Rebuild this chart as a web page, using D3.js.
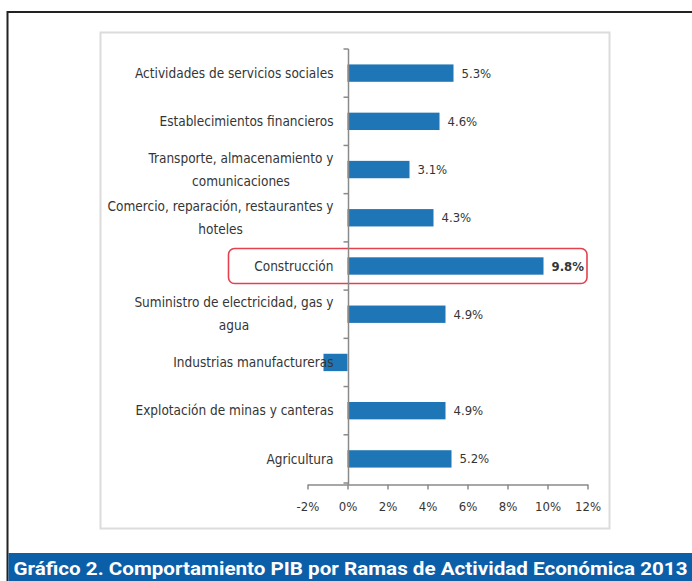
<!DOCTYPE html>
<html><head><meta charset="utf-8">
<script src="https://cdn.jsdelivr.net/npm/d3@7"></script>
<style>
html,body{margin:0;padding:0;background:#fff;}
svg{display:block;}
</style>
</head><body>
<svg id="c" width="692" height="581"></svg>
<script>
const categories = ["Actividades de servicios sociales","Establecimientos financieros","Transporte, almacenamiento y comunicaciones","Comercio, reparación, restaurantes y hoteles","Construcción","Suministro de electricidad, gas y agua","Industrias manufactureras","Explotación de minas y canteras","Agricultura"];
const labelLines = [["Actividades de servicios sociales"],["Establecimientos financieros"],["Transporte, almacenamiento y","comunicaciones"],["Comercio, reparación, restaurantes y","hoteles"],["Construcción"],["Suministro de electricidad, gas y","agua"],["Industrias manufactureras"],["Explotación de minas y canteras"],["Agricultura"]];
const values = [5.3, 4.6, 3.1, 4.3, 9.8, 4.9, -1.2, 4.9, 5.2];
const valueLabels = ["5.3%","4.6%","3.1%","4.3%","9.8%","4.9%","","4.9%","5.2%"];
const tickValues = [-2, 0, 2, 4, 6, 8, 10, 12];
const tickLabels = ["-2%","0%","2%","4%","6%","8%","10%","12%"];
const highlight = "Construcción";
const caption = "Gráfico 2. Comportamiento PIB por Ramas de Actividad Económica 2013";

const svg = d3.select("#c");
const labelFont = "'Liberation Sans Narrow','Arial Narrow','DejaVu Sans Condensed',sans-serif";
const textCol = "#353535";
const barCol = "#1f76b6";

// outer frame
svg.append("path").attr("d","M7.5,581V12H692").attr("fill","none").attr("stroke","#222").attr("stroke-width",2);
// chart box
svg.append("rect").attr("x",100.5).attr("y",32.5).attr("width",509).attr("height",496)
  .attr("fill","#fff").attr("stroke","#dcdcdc").attr("stroke-width",2);

const x = d3.scaleLinear().domain([-2, 12]).range([307.5, 587.5]);
const y = d3.scaleBand().domain(categories).range([49, 483]).paddingInner(0.64).paddingOuter(0.32);
const bw = y.bandwidth();
const step = y.step();
const axisY = 484.5;

// highlight box
const hc = y(highlight) + bw/2;
svg.append("rect").attr("x",228.5).attr("y",hc-17.5).attr("width",x(12)-0.5-228.5).attr("height",35)
  .attr("rx",6).attr("fill","none").attr("stroke","#e5404f").attr("stroke-width",1.6);

// bars
svg.append("g").selectAll("rect").data(categories).join("rect")
  .attr("x",(d,i)=>x(Math.min(0,values[i])))
  .attr("y",d=>y(d))
  .attr("width",(d,i)=>Math.abs(x(values[i])-x(0)))
  .attr("height",bw)
  .attr("fill",barCol);

// category labels (drawn over bars)
const lab = svg.append("g").attr("font-family",labelFont).attr("font-size",13.5).attr("fill",textCol);
categories.forEach((c,i)=>{
  const lines = labelLines[i];
  const cy = y(c) + bw/2;
  if (lines.length === 1) {
    lab.append("text").attr("x",333.5).attr("y",cy).attr("dy","0.35em").attr("text-anchor","end").text(lines[0]);
  } else {
    const tmp = lines.map((l,j)=> lab.append("text").attr("y",cy + (j - (lines.length-1)/2)*23).attr("dy","0.35em").attr("text-anchor","middle").text(l));
    const maxW = d3.max(tmp, t => t.node().getComputedTextLength());
    tmp.forEach(t => t.attr("x", 333.5 - maxW/2));
  }
});

// value labels
svg.append("g").attr("font-family",labelFont).attr("font-size",13).attr("fill",textCol)
  .selectAll("text").data(categories).join("text")
  .attr("x",(d,i)=>x(Math.max(0,values[i]))+8)
  .attr("y",d=>y(d)+bw/2).attr("dy","0.35em")
  .attr("font-weight",d=> d===highlight ? "bold" : "normal")
  .text((d,i)=>valueLabels[i]);

// x axis
const xa = svg.append("g").attr("transform",`translate(0,${axisY})`)
  .call(d3.axisBottom(x).tickValues(tickValues).tickFormat((d,i)=>tickLabels[i]).tickSize(5).tickSizeOuter(0).tickPadding(12));
xa.selectAll("path,line").attr("stroke","#8a8a8a").attr("stroke-width",1.5);
xa.selectAll("text").attr("font-family",labelFont).attr("font-size",13).attr("fill",textCol);

// y axis with boundary ticks
const yaxis = svg.append("g").attr("stroke","#8a8a8a").attr("stroke-width",1.5);
const x0 = Math.round(x(0)) + 0.5;
yaxis.append("line").attr("x1",x0).attr("x2",x0).attr("y1",y.range()[0]).attr("y2",axisY);
d3.range(categories.length+1).forEach(i=>{
  const yy = y.range()[0] + i*step;
  yaxis.append("line").attr("x1",x0-5).attr("x2",x0).attr("y1",yy).attr("y2",yy);
});

// caption band
svg.append("rect").attr("x",8.5).attr("y",553).attr("width",692-8.5).attr("height",28).attr("fill","#0b5ea8");
svg.append("text").attr("x",13.5).attr("y",574.5)
  .attr("font-family","Roboto, 'DejaVu Sans', sans-serif").attr("font-weight","bold").attr("font-size",17.5)
  .attr("fill","#fff").attr("textLength",674).attr("lengthAdjust","spacingAndGlyphs").text(caption);
</script>
</body></html>
